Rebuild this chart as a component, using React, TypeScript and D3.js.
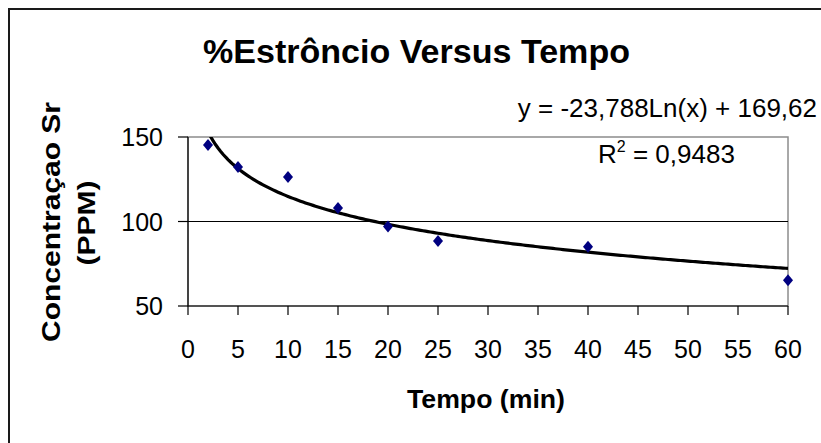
import React from "react";
import * as d3 from "d3";

const timeMin = [2, 5, 10, 15, 20, 25, 40, 60];
const concentration = [145.2, 132.2, 126.4, 108, 97.1, 88.4, 85, 65.3];
const xTicks = [0, 5, 10, 15, 20, 25, 30, 35, 40, 45, 50, 55, 60];
const yTicks = [50, 100, 150];
const trendSlope = -23.788;
const trendIntercept = 169.62;
const titleText = "%Estrôncio Versus Tempo";
const xLabel = "Tempo (min)";
const yLabelLines = ["Concentraçao Sr", "(PPM)"];
const equationText = "y = -23,788Ln(x) + 169,62";
const r2Value = " = 0,9483";

const W = 821;
const H = 443;
const FONT = "'Liberation Sans', Arial, sans-serif";

export default function App() {
  const x = d3.scaleLinear().domain([0, 60]).range([188, 788]);
  const y = d3.scaleLinear().domain([50, 150]).range([306, 137]);

  const trendX = d3.range(timeMin[0], timeMin[timeMin.length - 1] + 0.001, 0.25);
  const trendPts: [number, number][] = trendX.map((t) => [t, trendSlope * Math.log(t) + trendIntercept]);
  const line = d3
    .line<[number, number]>()
    .x((d) => x(d[0]))
    .y((d) => y(d[1]));

  const diamond = (cx: number, cy: number) =>
    `M${cx},${cy - 6} L${cx + 5},${cy} L${cx},${cy + 6} L${cx - 5},${cy} Z`;

  const [x0, x1] = x.range();
  const [yb, yt] = y.range();

  return (
    <svg width={W} height={H} style={{ position: "absolute", left: 0, top: 0, background: "#fff" }}>
      <rect x={0} y={0} width={W} height={H} fill="#fff" />
      <rect x={9} y={9} width={W + 20} height={H + 20} fill="none" stroke="#1a1a1a" strokeWidth={2} />

      <defs>
        <clipPath id="plotClip">
          <rect x={x0} y={yt} width={x1 - x0} height={yb - yt} />
        </clipPath>
      </defs>

      {/* plot area border */}
      <rect x={x0} y={yt} width={x1 - x0} height={yb - yt} fill="none" stroke="#8c8c8c" strokeWidth={1.5} />

      {/* gridlines */}
      {yTicks
        .filter((v) => v !== 50 && v !== 150)
        .map((v) => (
          <line key={"g" + v} x1={x0} x2={x1} y1={y(v)} y2={y(v)} stroke="#000" strokeWidth={1.2} />
        ))}

      {/* y axis */}
      <line x1={x0} x2={x0} y1={yt} y2={yb} stroke="#000" strokeWidth={1.2} />
      {yTicks.map((v) => (
        <g key={"yt" + v}>
          <line x1={x0 - 10} x2={x0} y1={y(v)} y2={y(v)} stroke="#000" strokeWidth={1.2} />
          <text x={163} y={y(v) + 9} textAnchor="end" fontFamily={FONT} fontSize={25} fill="#000">
            {v}
          </text>
        </g>
      ))}

      {/* x axis */}
      <line x1={x0} x2={x1} y1={yb} y2={yb} stroke="#000" strokeWidth={1.2} />
      {xTicks.map((v) => (
        <g key={"xt" + v}>
          <line x1={x(v)} x2={x(v)} y1={yb} y2={yb + 9} stroke="#000" strokeWidth={1.2} />
          <text x={x(v)} y={358} textAnchor="middle" fontFamily={FONT} fontSize={25} fill="#000">
            {v}
          </text>
        </g>
      ))}

      {/* trendline */}
      <path d={line(trendPts) || ""} fill="none" stroke="#000" strokeWidth={3.2} clipPath="url(#plotClip)" />

      {/* data points */}
      {timeMin.map((t, i) => (
        <path key={"p" + i} d={diamond(x(t), y(concentration[i]))} fill="#000080" />
      ))}

      {/* title */}
      <text x={416.5} y={63} textAnchor="middle" fontFamily={FONT} fontWeight="bold" fontSize={34} fill="#000"
        textLength={427} lengthAdjust="spacingAndGlyphs">
        {titleText}
      </text>

      {/* x label */}
      <text x={486} y={408} textAnchor="middle" fontFamily={FONT} fontWeight="bold" fontSize={26} fill="#000"
        textLength={158} lengthAdjust="spacingAndGlyphs">
        {xLabel}
      </text>

      {/* y label */}
      <text transform="translate(60,222) rotate(-90)" textAnchor="middle" fontFamily={FONT} fontWeight="bold"
        fontSize={26} fill="#000" textLength={240} lengthAdjust="spacingAndGlyphs">
        {yLabelLines[0]}
      </text>
      <text transform="translate(95,223) rotate(-90)" textAnchor="middle" fontFamily={FONT} fontWeight="bold"
        fontSize={23} fill="#000" textLength={85} lengthAdjust="spacingAndGlyphs">
        {yLabelLines[1]}
      </text>

      {/* equation */}
      <text x={817} y={117} textAnchor="end" fontFamily={FONT} fontSize={26} fill="#000">
        {equationText}
      </text>
      <text x={598} y={163} fontFamily={FONT} fontSize={26} fill="#000">
        R<tspan dy={-11} fontSize={16}>2</tspan>
        <tspan dy={11}>{r2Value}</tspan>
      </text>
    </svg>
  );
}
